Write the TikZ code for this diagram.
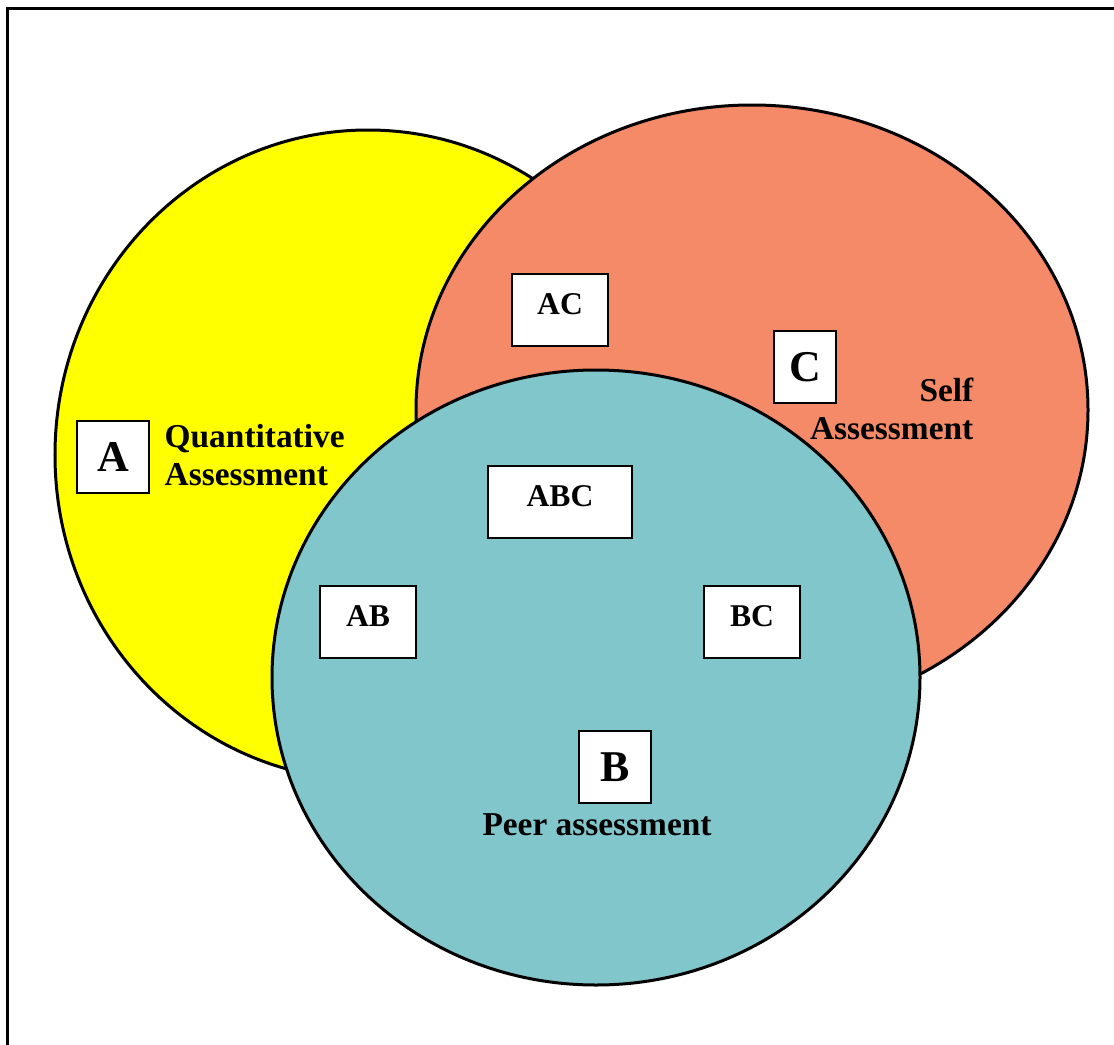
\documentclass[tikz,border=0pt]{standalone}
\usepackage{fontspec}
\setmainfont{Liberation Serif}
\usepackage{tikz}
\usetikzlibrary{positioning}

\definecolor{quantYellow}{RGB}{255,255,0}
\definecolor{selfSalmon}{RGB}{244,138,104}
\definecolor{peerTeal}{RGB}{128,198,202}

\begin{document}
\begin{tikzpicture}[
      font=\bfseries,
      venn/.style={draw=black, line width=0.03cm},
      frame/.style={draw=black, line width=0.03cm},
      box/.style={draw=black, fill=white, line width=0.02cm, inner sep=0pt,
        minimum height=0.72cm},
      big/.style={box, font=\fontsize{12.5}{14}\selectfont\bfseries},
      small/.style={box, font=\fontsize{9}{11}\selectfont\bfseries,
        text height=0.2cm, text depth=0.12cm},
      setname/.style={font=\fontsize{9.5}{10.8}\selectfont\bfseries, inner sep=0pt}
    ]
    \useasboundingbox (0,0) rectangle (11.14,-10.45);
    \draw[frame] (0.075,-10.45) |- (11.14,-0.09);

    % the three sets
    \path[venn, fill=quantYellow] (3.68,-4.55) ellipse [x radius=3.13cm, y radius=3.25cm];
    \path[venn, fill=selfSalmon]  (7.52,-4.10) ellipse [x radius=3.36cm, y radius=3.05cm];
    \path[venn, fill=peerTeal]    (5.96,-6.775) ellipse [x radius=3.24cm, y radius=3.075cm];

    % single sets
    \node[big, minimum width=0.72cm] (boxA) at (1.13,-4.57) {A};
    \node[big, minimum width=0.62cm] (boxC) at (8.05,-3.67) {C};
    \node[big, minimum width=0.72cm] (boxB) at (6.15,-7.67) {B};

    % overlaps
    \node[small, minimum width=0.96cm] (boxAC)  at (5.60,-3.10) {AC};
    \node[small, minimum width=1.44cm] (boxABC) at (5.60,-5.02) {ABC};
    \node[small, minimum width=0.96cm] (boxAB)  at (3.68,-6.22) {AB};
    \node[small, minimum width=0.96cm] (boxBC)  at (7.52,-6.22) {BC};

    % set names
    \node[setname, anchor=west, align=left] (nameA) at (1.64,-4.55)
      {Quantitative\\Assessment};
    \node[setname, anchor=east, align=right] (nameC) at (9.74,-4.09)
      {Self\\Assessment};
    \node[setname, anchor=base] (nameB) at (5.97,-8.35) {Peer assessment};
  \end{tikzpicture}
\end{document}
